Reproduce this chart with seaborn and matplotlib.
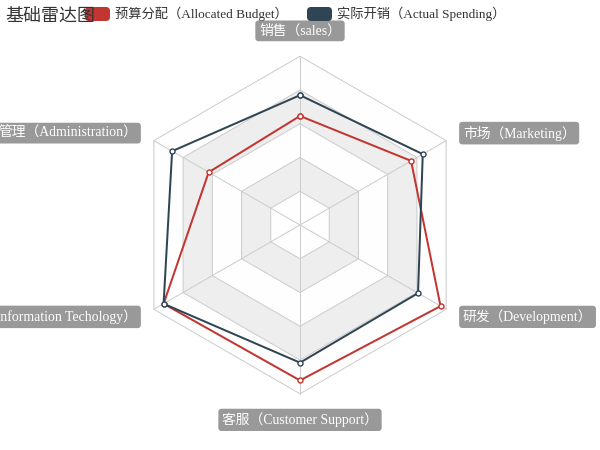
"""
基础雷达图 - 预算分配 vs 实际开销
"""

import numpy as np
import pandas as pd
import matplotlib.pyplot as plt
from matplotlib.patches import FancyBboxPatch
import seaborn as sns

sns.set_theme(style="white")
plt.rcParams['font.family'] = ['Liberation Serif', 'Noto Sans CJK SC', 'DejaVu Sans']

# data
indicators = ['销售（sales）', '管理（Administration）', '信息技术（Information Techology）',
              '客服（Customer Support）', '研发（Development）', '市场（Marketing）']
max_values = [6500, 16000, 30000, 38000, 52000, 25000]
allocated = [4200, 10000, 28000, 35000, 50000, 19000]
actual = [5000, 14000, 28000, 31000, 42000, 21000]
series_names = ['预算分配（Allocated Budget）', '实际开销（Actual Spending）']
colors = ['#c23531', '#2f4554']

PX = 0.72  # points per pixel at dpi 100
cx, cy, R = 300, 225, 168.75
n = len(indicators)
angles = np.pi / 2 + np.arange(n) * 2 * np.pi / n


def to_xy(ratio):
    ratio = np.asarray(ratio, dtype=float)
    return cx + ratio * R * np.cos(angles), cy - ratio * R * np.sin(angles)


fig = plt.figure(figsize=(6, 4.5), dpi=100)
ax = fig.add_axes([0, 0, 1, 1])
ax.set_xlim(0, 600)
ax.set_ylim(450, 0)
ax.axis('off')

# split areas + split lines
for k in range(4, -1, -1):
    hx, hy = to_xy(np.full(n, (k + 1) / 5))
    ax.fill(hx, hy, color='#fefefe' if k % 2 == 0 else '#eeeeee', lw=0, zorder=1)
    ax.plot(np.append(hx, hx[0]), np.append(hy, hy[0]), color='#cccccc', lw=1 * PX, zorder=2)
ox, oy = to_xy(np.ones(n))
for x, y in zip(ox, oy):
    ax.plot([cx, x], [cy, y], color='#cccccc', lw=1 * PX, zorder=2)

# series
rows = []
for name, vals in zip(series_names, [allocated, actual]):
    xs, ys = to_xy(np.array(vals) / np.array(max_values))
    xs, ys = np.append(xs, xs[0]), np.append(ys, ys[0])
    rows.append(pd.DataFrame({'x': xs, 'y': ys, 'series': name}))
df = pd.concat(rows)

for name, c in zip(series_names, colors):
    sub = df[df['series'] == name]
    sns.lineplot(data=sub, x='x', y='y', sort=False, estimator=None, color=c, lw=2 * PX,
                 marker='o', ms=3.6, mfc='white', mec=c, mew=1.0, ax=ax, zorder=5)

# axis names
fs = 13.8
pad_frac = 0.27
pad = fs * pad_frac
gap = R + 15
for lab, a in zip(indicators, angles):
    x, y = cx + gap * np.cos(a), cy - gap * np.sin(a)
    c, s = np.cos(a), np.sin(a)
    if abs(c) < 1e-2:
        ha = 'center'
    elif c > 0:
        ha = 'left'
        x += pad
    else:
        ha = 'right'
        x -= pad
    if abs(c) < 1e-2 and s > 0:
        va = 'bottom'
        y -= pad
    elif abs(c) < 1e-2 and s < 0:
        va = 'top'
        y += pad
    else:
        va = 'center'
    ax.text(x, y, lab, ha=ha, va=va, color='white', fontsize=fs * PX, zorder=6,
            bbox=dict(boxstyle=f'round,pad={pad_frac},rounding_size=0.22', fc='#999999', ec='none'))

# title
ax.text(5, 16, '基础雷达图', ha='left', va='center', fontsize=18 * PX, color='#333333',
        family=['Noto Sans CJK SC'], zorder=8)

# legend
leg_x = [85, 307]
for lx, name, c in zip(leg_x, series_names, colors):
    ax.add_patch(FancyBboxPatch((lx, 7), 25, 14, boxstyle='round,pad=0,rounding_size=4',
                                fc=c, ec='none', zorder=7))
    ax.text(lx + 30, 14, name, ha='left', va='center', fontsize=13.3 * PX, color='#333333', zorder=7)

fig.savefig('out.png', dpi=100)
